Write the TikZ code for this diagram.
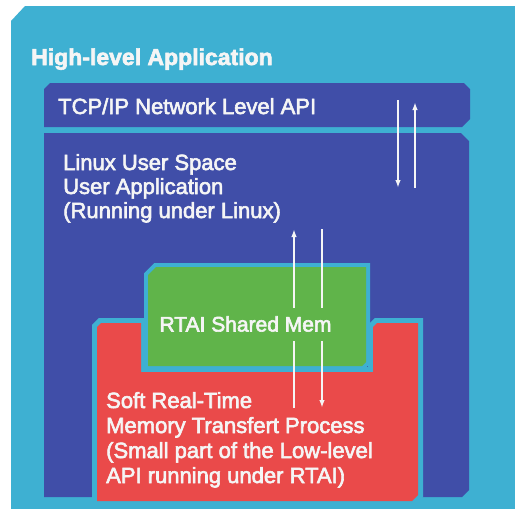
\documentclass[tikz,border=0pt]{standalone}
\usepackage{fontspec}
\setmainfont{Liberation Sans}
\usetikzlibrary{arrows.meta}
\definecolor{tealbg}{RGB}{62,176,210}
\definecolor{bluebox}{RGB}{64,78,168}
\definecolor{greenbox}{RGB}{96,180,74}
\definecolor{redbox}{RGB}{234,74,74}
\definecolor{txtw}{RGB}{245,245,245}
\newcommand{\heavy}[1]{\special{pdf:literal direct 2 Tr 0.6 w}#1\special{pdf:literal direct 0 Tr}}
\begin{document}
\begin{tikzpicture}[x=1pt,y=-1pt,
  txt/.style={text=txtw, inner sep=0pt, anchor=base west, font=\fontsize{22}{24}\selectfont},
  flow/.style={draw=txtw, line width=1.6pt, -{Latex[length=8pt,width=5.5pt]}}]
\useasboundingbox (0,0) rectangle (515,509);
\fill[white] (0,0) rectangle (515,509);
% outer high-level frame
\fill[tealbg] (11,21) -- (25,6) -- (515,6) -- (515,509) -- (11,509) -- cycle;
% TCP/IP box
\fill[bluebox] (44,89) -- (50,83) -- (464,83) -- (470,89) -- (470,119) -- (462,127) -- (44,127) -- cycle;
% Linux user space box
\fill[bluebox] (44,133) -- (461,133) -- (469,141) -- (469,490) -- (462,497) -- (44,497) -- cycle;
% red U shape (with teal border)
\def\redpath{(97,327) -- (101,323) -- (141,323) -- (141,372) -- (373,372) -- (373,327) -- (377,323) -- (418,323) -- (418,495) -- (412,501) -- (97,501) -- cycle}
\filldraw[tealbg, line width=10pt, line join=miter] \redpath;
\fill[redbox] \redpath;
% green shared memory box (with teal border)
\def\greenpath{(148,275) -- (156,267) -- (366,267) -- (366,362) -- (362,366) -- (148,366) -- cycle}
\filldraw[tealbg, line width=8pt, line join=miter] \greenpath;
\fill[greenbox] \greenpath;
% arrow end points
\coordinate (a1s) at (398,100);
\coordinate (a1e) at (398,188);
\coordinate (a2s) at (415,188);
\coordinate (a2e) at (415,102);
\coordinate (b1s) at (294,408);
\coordinate (b1e) at (294,229);
\coordinate (b2s) at (322,229);
\coordinate (b2e) at (322,408);
\draw[flow] (a1s) -- (a1e);
\draw[flow] (a2s) -- (a2e);
\draw[flow] (b1s) -- (b1e);
\draw[flow] (b2s) -- (b2e);
% texts
\node[txt, font=\fontsize{23}{26}\selectfont\bfseries] (title) at (31,65) {\heavy{High-level Application}};
\node[txt] (tcp) at (58,114) {\heavy{TCP/IP Network Level API}};
\node[txt] (lin1) at (63,170) {\heavy{Linux User Space}};
\node[txt] (lin2) at (63,194) {\heavy{User Application}};
\node[txt] (lin3) at (63,218) {\heavy{(Running under Linux)}};
\node[text=txtw, fill=greenbox, inner xsep=1pt, inner ysep=0pt, minimum height=33pt,
      font=\fontsize{21}{24}\selectfont] (shm) at (245.5,324) {\heavy{RTAI Shared Mem}};
\node[txt] (rt1) at (106,408) {\heavy{Soft Real-Time}};
\node[txt] (rt2) at (106,433) {\heavy{Memory Transfert Process}};
\node[txt] (rt3) at (106,458) {\heavy{(Small part of the Low-level}};
\node[txt] (rt4) at (106,483) {\heavy{API running under RTAI)}};
\end{tikzpicture}
\end{document}
